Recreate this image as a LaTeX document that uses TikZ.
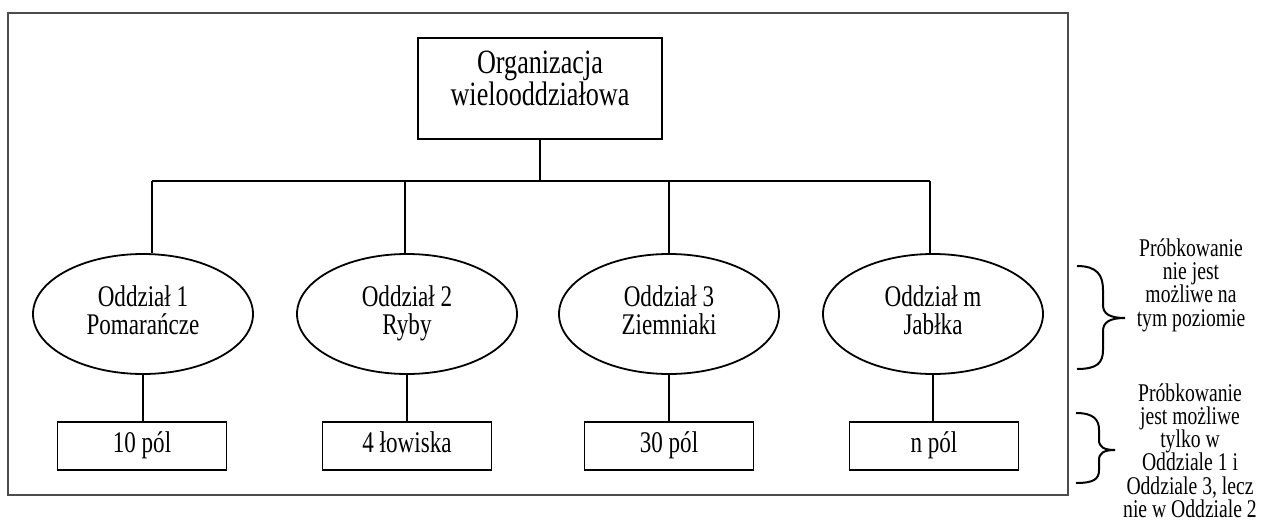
\documentclass[tikz,border=0pt]{standalone}
\usepackage{fontspec}
\setmainfont[FakeStretch=0.77]{Liberation Serif}
\usetikzlibrary{shapes.geometric}
\begin{document}
\begin{tikzpicture}[x=1pt,y=-1pt,
  frame/.style={draw=black!70,line width=1.6pt},
  topbox/.style={draw,line width=1.8pt,minimum width=244pt,minimum height=101pt,inner sep=0pt},
  oval/.style={draw,ellipse,line width=1.8pt,minimum width=220pt,minimum height=120pt,inner sep=0pt,align=center,font=\fontsize{30}{28}\selectfont},
  leaf/.style={draw,line width=1.8pt,minimum width=169pt,minimum height=48pt,inner sep=0pt,font=\fontsize{30}{28}\selectfont},
  conn/.style={line width=2.2pt},
  brc/.style={line width=2pt},
  side/.style={align=center,inner sep=0pt,font=\fontsize{25.5}{23.3}\selectfont}]
\useasboundingbox (0,0) rectangle (1272,522);
\draw[frame] (8,13) rectangle (1068,495);
% top box
\node[topbox] (org) at (540,88.5) {};
\node[align=center,inner sep=0pt,font=\fontsize{34}{32}\selectfont] (orgt) at (540,78) {Organizacja\\wielooddziałowa};
% ellipses
\node[oval] (e1) at (143,314) {Oddział 1\\Pomarańcze\strut};
\node[oval] (e2) at (407,314) {Oddział 2\\Ryby\strut};
\node[oval] (e3) at (669,314) {Oddział 3\\Ziemniaki\strut};
\node[oval] (e4) at (933,314) {Oddział m\\Jabłka\strut};
% leaves
\node[leaf] (b1) at (142,446) {10 pól\strut};
\node[leaf] (b2) at (407,446) {4 łowiska\strut};
\node[leaf] (b3) at (669,446) {30 pól\strut};
\node[leaf] (b4) at (934,446) {n pól\strut};
% bus
\coordinate (busL) at (152,181);
\coordinate (t2) at (405,181);
\coordinate (t3) at (669,181);
\coordinate (busR) at (930,181);
\draw[conn] (org.south) -- (org.south |- busL);
\draw[conn] (busL) -- (busR);
\draw[conn] (busL) -- (busL |- e1.north);
\draw[conn] (t2) -- (t2 |- e2.north);
\draw[conn] (t3) -- (t3 |- e3.north);
\draw[conn] (busR) -- (busR |- e4.north);
% ellipse to leaf
\draw[conn] (e1.south) -- (e1.south |- b1.north);
\draw[conn] (e2.south) -- (e2.south |- b2.north);
\draw[conn] (e3.south) -- (e3.south |- b3.north);
\draw[conn] (e4.south) -- (e4.south |- b4.north);
% braces
\draw[brc] (1077,266) .. controls (1097,266) and (1103,275) .. (1103,290) -- (1103,305) .. controls (1103,314) and (1110,318) .. (1125,318) .. controls (1110,318) and (1103,322) .. (1103,331) -- (1103,350) .. controls (1103,363) and (1097,369) .. (1077,369);
\draw[brc] (1076,413) .. controls (1094,413) and (1099,420) .. (1099,430) -- (1099,440) .. controls (1099,447) and (1104,450) .. (1115,450) .. controls (1104,450) and (1099,453) .. (1099,460) -- (1099,470) .. controls (1099,479) and (1094,483) .. (1076,483);
% side notes
\node[side] (n1) at (1191,285) {Próbkowanie\\nie jest\\możliwe na\\tym poziomie};
\node[side,anchor=south] (n2) at (1190,518) {Próbkowanie\\jest możliwe\\tylko w\\Oddziale 1 i\\Oddziale 3, lecz\\nie w Oddziale 2};
\end{tikzpicture}
\end{document}
